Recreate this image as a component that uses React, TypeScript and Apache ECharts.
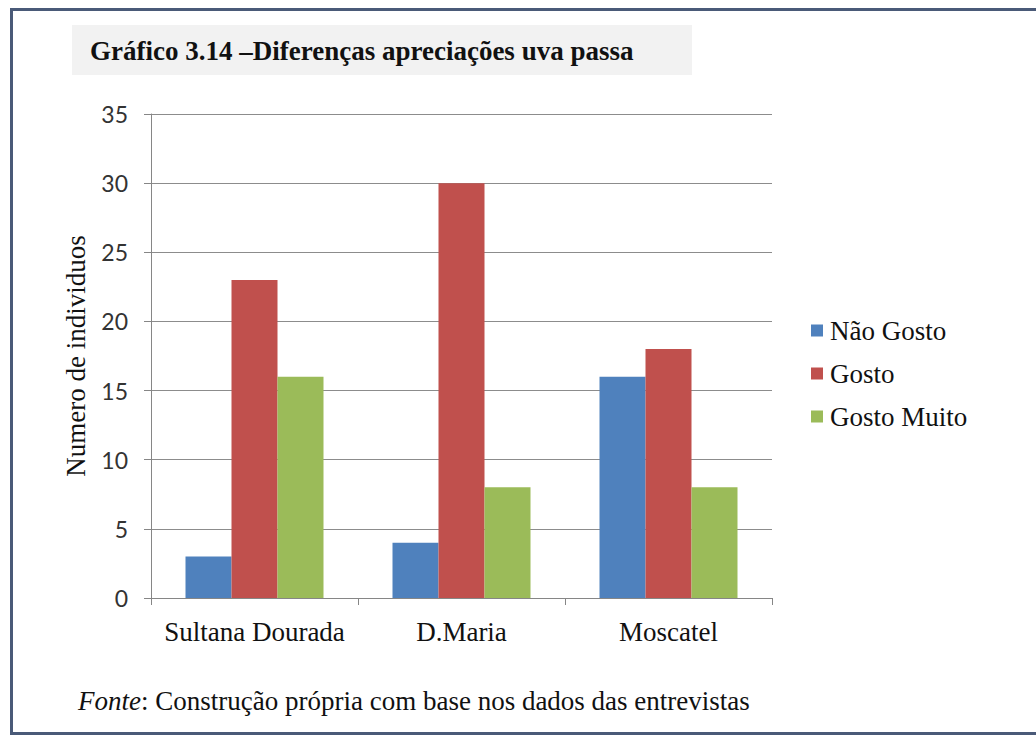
import React, { useEffect, useRef } from "react";
import * as echarts from "echarts";

const categories = ["Sultana Dourada", "D.Maria", "Moscatel"];
const seriesNames = ["Não Gosto", "Gosto", "Gosto Muito"];
const naoGosto = [3, 4, 16];
const gosto = [23, 30, 18];
const gostoMuito = [16, 8, 8];
const colors = ["#4F81BD", "#C0504D", "#9BBB59"];

const serif = "Liberation Serif";
const sans = "Lato";

export default function App() {
  const ref = useRef<HTMLDivElement>(null);
  useEffect(() => {
    if (!ref.current) return;
    const chart = echarts.init(ref.current, null, { renderer: "svg" });
    const data = [naoGosto, gosto, gostoMuito];
    chart.setOption({
      animation: false,
      backgroundColor: "#ffffff",
      color: colors,
      graphic: [
        {
          type: "rect",
          shape: { x: 11.5, y: 9.5, width: 1040, height: 724 },
          style: { fill: "none", stroke: "#4a5a78", lineWidth: 3 },
          silent: true,
        },
        {
          type: "rect",
          shape: { x: 72, y: 25, width: 620, height: 50 },
          style: { fill: "#f2f2f2" },
          silent: true,
        },
        {
          type: "text",
          x: 90,
          y: 51,
          style: {
            text: "Gráfico 3.14 –Diferenças apreciações uva passa",
            fontFamily: serif,
            fontWeight: "bold",
            fontSize: 27,
            fill: "#111",
            verticalAlign: "middle",
          },
        },
        {
          type: "text",
          x: 78,
          y: 701,
          style: {
            text: "{i|Fonte}{n|: Construção própria com base nos dados das entrevistas}",
            verticalAlign: "middle",
            rich: {
              i: { fontFamily: serif, fontStyle: "italic", fontSize: 27, fill: "#111" },
              n: { fontFamily: serif, fontSize: 27, fill: "#111" },
            },
          },
        },
      ],
      legend: {
        orient: "vertical",
        left: 806,
        top: 312,
        itemWidth: 12,
        itemHeight: 12,
        itemGap: 16,
        icon: "rect",
        textStyle: { fontFamily: serif, fontSize: 27, color: "#111", padding: [0, 0, 0, 2] },
        data: seriesNames,
      },
      grid: { left: 151, right: 264, top: 114, bottom: 138 },
      xAxis: {
        type: "category",
        data: categories,
        axisLine: { lineStyle: { color: "#868686" } },
        axisTick: { show: true, length: 7, lineStyle: { color: "#868686" } },
        axisLabel: { fontFamily: serif, fontSize: 27, color: "#111", margin: 20, interval: 0 },
      },
      yAxis: {
        type: "value",
        min: 0,
        max: 35,
        interval: 5,
        name: "Numero de individuos",
        nameLocation: "middle",
        nameGap: 62,
        nameRotate: 90,
        nameTextStyle: { fontFamily: serif, fontSize: 27, color: "#111" },
        axisLine: { show: true, lineStyle: { color: "#868686" } },
        axisTick: { show: true, length: 7, lineStyle: { color: "#868686" } },
        axisLabel: { fontFamily: sans, fontSize: 23, color: "#333", margin: 23 },
        splitLine: { lineStyle: { color: "#8c8c8c" } },
      },
      series: seriesNames.map((n, i) => ({
        name: n,
        type: "bar",
        data: data[i],
        barWidth: 46,
        barGap: "0%",
      })),
    });
    return () => chart.dispose();
  }, []);
  return (
    <div
      ref={ref}
      style={{ position: "fixed", left: 0, top: 0, width: 1036, height: 736 }}
    />
  );
}
